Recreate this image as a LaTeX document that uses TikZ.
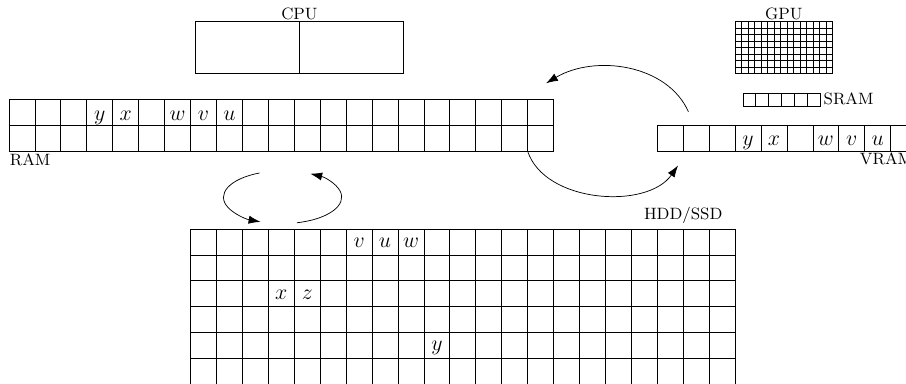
\documentclass[tikz,border=0pt]{standalone}
\usetikzlibrary{arrows.meta}
\begin{document}
\begin{tikzpicture}[x=0.5cm,y=0.5cm,
  block/.style={draw, inner sep=0pt, outer sep=0pt, anchor=north west},
  lbl/.style={font=\small, inner sep=0pt},
  val/.style={anchor=base, inner sep=0pt, font=\large},
  flow/.style={-{Latex[length=6.5pt,width=4.5pt]}}]
\clip (-0.347,-10.94) rectangle (34.59,3.83);
% CPU
\node[block, minimum width=2cm, minimum height=1cm] (cpuL) at (7.2,3) {};
\node[block, minimum width=2cm, minimum height=1cm] (cpuR) at (11.2,3) {};
\node[lbl, anchor=base] (cpulbl) at (11.2,3.08) {CPU};
% GPU
\node[block, minimum width=1.875cm, minimum height=1cm] (gpu) at (28,3) {};
\draw[step=0.125cm] (gpu.south west) grid (gpu.north east);
\node[lbl, anchor=base] (gpulbl) at (29.875,3.08) {GPU};
% SRAM
\node[block, minimum width=1.5cm, minimum height=0.25cm] (sram) at (28.3,0.23) {};
\begin{scope}[shift={(28.3,-0.27)}]
  \draw[step=0.25cm] (0,0) grid (3,0.5);
\end{scope}
\node[lbl, anchor=base west] (sramlbl) at (31.4,-0.19) {SRAM};
% RAM
\node[block, minimum width=10.5cm, minimum height=1cm] (ram) at (0,0) {};
\draw[step=0.5cm] (ram.south west) grid (ram.north east);
\node[lbl, anchor=base west] (ramlbl) at (0.02,-2.55) {RAM};
\foreach \c/\t/\n in {3/y/ry,4/x/rx,6/w/rw,7/v/rv,8/u/ru}
  \node[val] (\n) at (\c+0.5,-0.8) {$\t$};
% VRAM
\node[block, minimum width=5cm, minimum height=0.5cm] (vram) at (25,-1) {};
\draw[step=0.5cm] (vram.south west) grid (vram.north east);
\node[lbl, anchor=base west] (vramlbl) at (32.8,-2.52) {VRAM};
\foreach \c/\t/\n in {28/y/vy,29/x/vx,31/w/vw,32/v/vv,33/u/vu}
  \node[val] (\n) at (\c+0.5,-1.78) {$\t$};
% HDD / SSD
\node[block, minimum width=10.5cm, minimum height=3cm] (hdd) at (7,-5) {};
\draw[step=0.5cm] (hdd.south west) grid (hdd.north east);
\node[lbl, anchor=base] (hddlbl) at (26,-4.63) {HDD/SSD};
\foreach \x/\y/\t/\n in {13.5/-5.5/v/hv,14.5/-5.5/u/hu,15.5/-5.5/w/hw,10.5/-7.5/x/hx,11.5/-7.5/z/hz,16.5/-9.5/y/hy}
  \node[val] (\n) at (\x,\y-0.2) {$\t$};
% connectors
\coordinate (a1s) at (26.2,-0.48);
\coordinate (a1e) at (20.71,0.62);
\draw[flow] (a1s) .. controls (25.39,1.35) and (22.60,1.74) .. (a1e);
\coordinate (a2s) at (20,-2);
\coordinate (a2e) at (25.8,-2.55);
\draw[flow] (a2s) .. controls (20.65,-4.0) and (24.6,-4.27) .. (a2e);
\coordinate (c1s) at (9.66,-2.84);
\draw[flow] (c1s) arc[start angle=113, end angle=248, x radius=1.14cm, y radius=0.51cm];
\coordinate (c2s) at (11.10,-4.76);
\draw[flow] (c2s) arc[start angle=-76, end angle=62, x radius=1.14cm, y radius=0.51cm];
\end{tikzpicture}
\end{document}
